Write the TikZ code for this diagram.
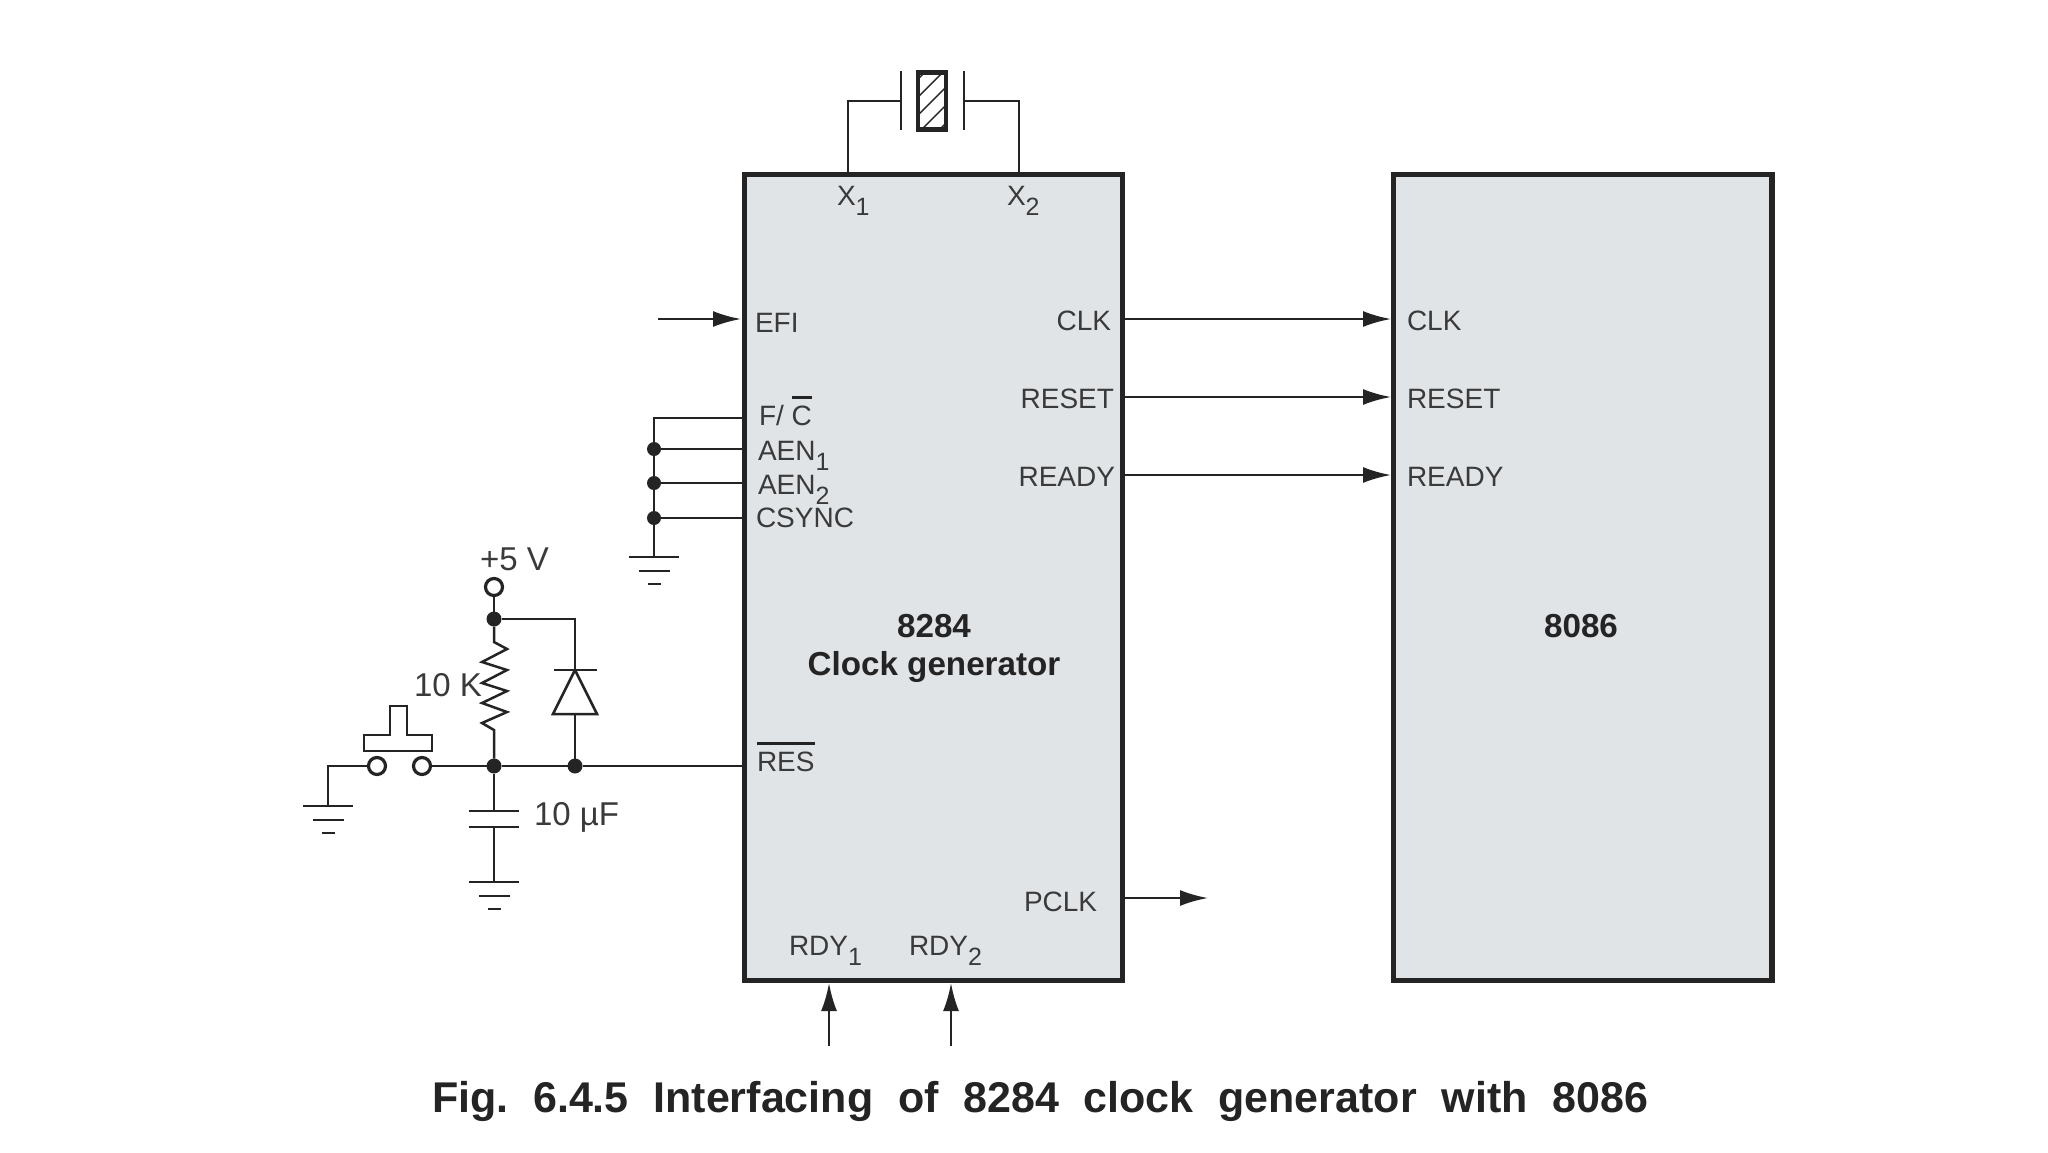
\documentclass[tikz,border=0pt]{standalone}
\usepackage{fontspec}
\setmainfont{Liberation Sans}
\usepackage{tikz}
\usetikzlibrary{arrows.meta}
\definecolor{wirecol}{HTML}{242424}
\definecolor{textcol}{HTML}{3A3A3A}
\definecolor{chipcol}{HTML}{E1E4E7}
\newcommand{\subs}[1]{\raisebox{-5pt}{\fontsize{12.5}{12.5}\selectfont #1}}
\newcommand{\ovl}[1]{\leavevmode\setbox0\hbox{#1}\rlap{\textcolor{wirecol}{\rule[13pt]{\wd0}{1.5pt}}}\box0}
\tikzstyle{arrow} = [-{Latex[length=14pt,width=8pt]},wirecol,line width=1.25pt]
\tikzstyle{wire} = [wirecol,line width=1.25pt]
\tikzstyle{chip} = [draw=wirecol,fill=chipcol,line width=2.6pt,inner sep=0pt,outer sep=0pt]
\tikzstyle{pin} = [inner sep=0pt,outer sep=0pt,text=textcol,font=\fontsize{14}{14}\selectfont]
\tikzstyle{part} = [inner sep=0pt,outer sep=0pt,text=textcol,font=\fontsize{16.5}{16.5}\selectfont]
\tikzstyle{title} = [inner sep=0pt,outer sep=0pt,text=wirecol,font=\fontsize{16.6}{16.6}\selectfont\bfseries]
\tikzstyle{dot} = [circle,fill=wirecol,inner sep=0pt,outer sep=0pt,minimum size=7.5pt]
\tikzstyle{hole} = [circle,draw=wirecol,fill=white,line width=1.6pt,inner sep=0pt,outer sep=0pt,minimum size=8.5pt]

\begin{document}
\begin{tikzpicture}[x=0.5pt,y=-0.5pt]
\useasboundingbox (0,0) rectangle (2048,1152);
% chips
\node[chip,minimum width=189pt,minimum height=403pt] (gen) at (933.5,577.5) {};
\node[chip,minimum width=189.25pt,minimum height=403pt] (cpu) at (1582.75,577.5) {};
\node[title,anchor=base] (gennum) at (934,637) {8284};
\node[title,anchor=base] (genname) at (934,675) {Clock generator};
\node[title,anchor=base] (cpunum) at (1581,637) {8086};
% pins of 8284
\node[pin,anchor=base west] (efi) at (755,332) {EFI};
\node[pin,anchor=base west] (fc) at (759,425) {F/ \ovl{C}};
\node[pin,anchor=base west] (aenone) at (758,460) {AEN\subs{1}};
\node[pin,anchor=base west] (aentwo) at (758,494) {AEN\subs{2}};
\node[pin,anchor=base west] (csync) at (756,527) {CSYNC};
\node[pin,anchor=base west] (res) at (757,771) {\ovl{RES}};
\node[pin,anchor=base west] (xone) at (837,205) {X\subs{1}};
\node[pin,anchor=base west] (xtwo) at (1007,205) {X\subs{2}};
\node[pin,anchor=base east] (clkout) at (1111,330) {CLK};
\node[pin,anchor=base east] (resetout) at (1114,408) {RESET};
\node[pin,anchor=base east] (readyout) at (1115,486) {READY};
\node[pin,anchor=base west] (pclk) at (1024,911) {PCLK};
\node[pin,anchor=base west] (rdyone) at (789,955) {RDY\subs{1}};
\node[pin,anchor=base west] (rdytwo) at (909,955) {RDY\subs{2}};
% pins of 8086
\node[pin,anchor=base west] (clkin) at (1407,330) {CLK};
\node[pin,anchor=base west] (resetin) at (1407,408) {RESET};
\node[pin,anchor=base west] (readyin) at (1407,486) {READY};
% arrows
\coordinate (efia) at (658,319);
\coordinate (efib) at (741,319);
\draw[arrow] (efia)--(efib);
\foreach \n/\y in {clk/319,reset/397,ready/475}{
\coordinate (\n a) at (1125,\y);
\coordinate (\n b) at (1391,\y);
\draw[arrow] (\n a)--(\n b);
}
\coordinate (pclka) at (1125,898);
\coordinate (pclkb) at (1208,898);
\draw[arrow] (pclka)--(pclkb);
\foreach \n/\x in {rone/829,rtwo/951}{
\coordinate (\n a) at (\x,1046);
\coordinate (\n b) at (\x,983);
\draw[arrow] (\n a)--(\n b);
}
% crystal
\node[draw=wirecol,line width=2.2pt,minimum width=14pt,minimum height=28.5pt,inner sep=0pt,
  path picture={\foreach \k in {-3,...,3}{\draw[wirecol,line width=0.7pt] ([shift={(-20,20+18*\k)}]path picture bounding box.center)--([shift={(20,-20+18*\k)}]path picture bounding box.center);}}] (xtal) at (932,101) {};
\coordinate (platel) at (901,101);
\coordinate (plater) at (964,101);
\coordinate (xa) at (848,174);
\coordinate (xb) at (1019,174);
\draw[wire] (platel)--(xa|-platel)--(xa);
\draw[wire] (plater)--(xb|-plater)--(xb);
\draw[wire] (901,71)--(901,130);
\draw[wire] (964,71)--(964,130);
% tied low inputs
\node[dot,minimum size=7pt] (done) at (654,449) {};
\node[dot,minimum size=7pt] (dtwo) at (654,483) {};
\node[dot,minimum size=7pt] (dthree) at (654,518) {};
\coordinate (gndc) at (654,557);
\draw[wire] (744,418)--(654,418)--(gndc);
\draw[wire] (done)--(744,449);
\draw[wire] (dtwo)--(744,483);
\draw[wire] (dthree)--(744,518);
% reset network
\node[hole] (vcc) at (494,587) {};
\node[dot] (dvcc) at (494,619) {};
\node[dot] (dres) at (494,766) {};
\node[dot] (ddio) at (575,766) {};
\node[hole] (swa) at (377,766) {};
\node[hole] (swb) at (422,766) {};
\node[part,anchor=base west] (vlabel) at (480,570) {+5 V};
\node[part,anchor=base west] (rlabel) at (414,696) {10 K};
\node[part,anchor=base west] (clabel) at (534,825) {10 µF};
\coordinate (res0) at (744,766);
\coordinate (gnda) at (328,806);
\coordinate (gndb) at (494,882);
\draw[wire] (vcc)--(dvcc);
\draw[wire] (dvcc)--(494,642)--(507,649)--(482,662)--(507,670)--(482,683)--(507,691)--(482,703)--(507,712)--(482,723)--(494,730)--(dres);
\draw[wire] (dvcc)--(575,619)--(575,670);
\draw[wire] (554,670)--(597,670);
\draw[wire,line join=miter] (575,670)--(597,714)--(553,714)--cycle;
\draw[wire] (575,714)--(ddio);
\draw[wire] (swb)--(dres);
\draw[wire] (dres)--(ddio);
\draw[wire] (ddio)--(res0);
\draw[wire] (swa)--(gnda|-swa)--(gnda);
\draw[wire] (dres)--(494,811);
\draw[wire] (469,811)--(519,811);
\draw[wire] (469,827)--(519,827);
\draw[wire] (494,827)--(gndb);
% push button
\draw[wire] (364,735)--(390,735)--(390,706)--(407,706)--(407,735)--(432,735)--(432,751)--(364,751)--cycle;
% grounds
\foreach \g in {gnda,gndb,gndc}{
\begin{scope}[shift={(\g)}]
\draw[wire] (-25,0)--(25,0);
\draw[wire] (-15.5,14)--(15.5,14);
\draw[wire] (-6.5,27)--(6.5,27);
\end{scope}
}
\node[anchor=base,inner sep=0pt,text=wirecol,font=\fontsize{21.5}{21.5}\selectfont\bfseries] (caption) at (1040,1112) {\frenchspacing\makebox[608pt][s]{Fig. 6.4.5 Interfacing of 8284 clock generator with 8086}};
\end{tikzpicture}
\end{document}
